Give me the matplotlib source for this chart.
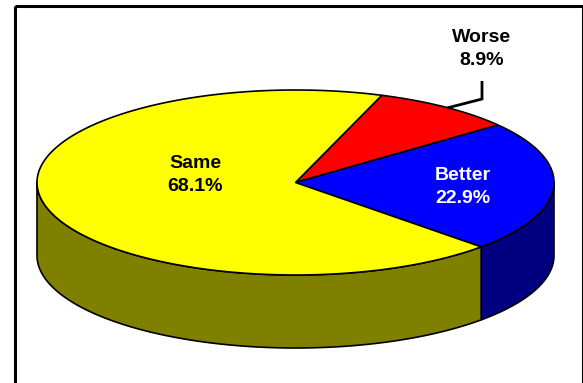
import numpy as np
import matplotlib
matplotlib.use("Agg")
import matplotlib.pyplot as plt
from matplotlib.patches import Polygon, Rectangle

# Survey response shares (percent), in clockwise drawing order
categories = ["Worse", "Better", "Same"]
values = [8.9, 22.9, 68.1]
top_colors = ["#ff0000", "#0000ff", "#ffff00"]
side_colors = ["#800000", "#000080", "#808000"]
label_colors = ["black", "white", "black"]

# Pie geometry in pixel space
CX, CY = 295.5, 182.5
RX, RY = 258.5, 92.5
DEPTH = 73.0
START = 70.5  # degrees, first slice edge, slices go clockwise

# Label anchors (centre of the two-line label)
label_pos = {"Worse": (482, 49), "Better": (463, 187), "Same": (195, 175)}


def rim(t_deg, dy=0.0):
    t = np.radians(t_deg)
    return CX + RX * np.cos(t), CY - RY * np.sin(t) + dy


def front_range(t_lo, t_hi):
    """Return the part of [t_lo, t_hi] that lies on the front half of the pie."""
    for k in (-1, 0, 1):
        lo = max(t_lo + 360 * k, -180.0)
        hi = min(t_hi + 360 * k, 0.0)
        if hi > lo:
            return lo, hi
    return None


fig = plt.figure(figsize=(5.83, 3.83), dpi=100)
ax = fig.add_axes([0, 0, 1, 1])
ax.set_xlim(0, 583)
ax.set_ylim(383, 0)
ax.axis("off")

total = sum(values)
spans = [v / total * 360.0 for v in values]
edges = [START]
for s in spans:
    edges.append(edges[-1] - s)

# side walls first
for i in range(len(values)):
    rng = front_range(edges[i + 1], edges[i])
    if rng is None:
        continue
    ts = np.linspace(rng[0], rng[1], 200)
    upper = np.column_stack(rim(ts))
    lower = np.column_stack(rim(ts[::-1], DEPTH))
    ax.add_patch(Polygon(np.vstack([upper, lower]), closed=True,
                         facecolor=side_colors[i], edgecolor="black",
                         linewidth=1.2, joinstyle="round"))

# top faces
for i in range(len(values)):
    ts = np.linspace(edges[i], edges[i + 1], 300)
    arc = np.column_stack(rim(ts))
    pts = np.vstack([[CX, CY], arc])
    ax.add_patch(Polygon(pts, closed=True, facecolor=top_colors[i],
                         edgecolor="black", linewidth=1.2, joinstyle="miter"))

# labels
for name, v, c in zip(categories, values, label_colors):
    x, y = label_pos[name]
    ax.text(x, y, f"{name}\n{v:.1f}%", ha="center", va="center",
            fontsize=14, fontweight="bold", color=c,
            family="Liberation Sans", linespacing=1.5)

# leader line for the small slice
ax.plot([482, 482, 447], [81, 99, 108], color="black", linewidth=2.0,
        solid_joinstyle="miter", solid_capstyle="butt")

# chart frame (bottom edge runs off the image)
ax.add_patch(Rectangle((14.5, 5.5), 568, 420, fill=False,
                       edgecolor="black", linewidth=2.2, clip_on=False))

fig.savefig("out.png", dpi=100)
